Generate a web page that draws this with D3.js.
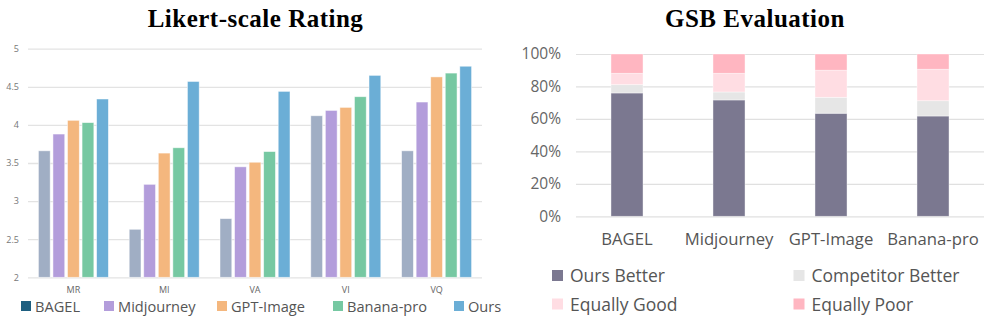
<!DOCTYPE html>
<html><head><meta charset="utf-8">
<script src="https://cdn.jsdelivr.net/npm/d3@7"></script>
<style>
html,body{margin:0;padding:0;background:#fff;}
svg{display:block;}
</style></head>
<body>
<svg id="c" width="996" height="324"></svg>
<script>
// ---- Likert data ----
const likertCats = ["MR","MI","VA","VI","VQ"];
const models = ["BAGEL","Midjourney","GPT-Image","Banana-pro","Ours"];
const bagelVals = [3.66, 2.63, 2.77, 4.12, 3.66];
const midjourneyVals = [3.88, 3.22, 3.45, 4.19, 4.30];
const gptVals = [4.06, 3.63, 3.51, 4.23, 4.63];
const bananaVals = [4.03, 3.70, 3.65, 4.37, 4.68];
const oursVals = [4.34, 4.57, 4.44, 4.65, 4.77];
const likertTicks = [2, 2.5, 3, 3.5, 4, 4.5, 5];

// ---- GSB data ----
const gsbCats = ["BAGEL","Midjourney","GPT-Image","Banana-pro"];
const gsbSeries = ["Ours Better","Competitor Better","Equally Good","Equally Poor"];
const oursBetter = [76.0, 71.7, 63.5, 61.8];
const competitorBetter = [5.1, 4.9, 9.8, 9.4];
const equallyGood = [7.0, 11.5, 16.7, 19.4];
const equallyPoor = [11.9, 11.9, 10.0, 9.4];
const gsbTicks = [0, 20, 40, 60, 80, 100];

const svg = d3.select("#c");
const sans = "'Open Sans', 'Noto Sans', sans-serif";
const serif = "'Liberation Serif', serif";

// ===== Left chart =====
(function(){
  const barColors = ["#a0aec4","#b39ddb","#f4b77e","#76c8a2","#6baed6"];
  const legendColors = ["#1e5f80","#b39ddb","#f4b77e","#76c8a2","#6baed6"];
  const series = [bagelVals, midjourneyVals, gptVals, bananaVals, oursVals];
  const x0 = d3.scaleBand().domain(likertCats).range([28, 482]).paddingInner(0).paddingOuter(0);
  const x1 = d3.scaleBand().domain(models).range([0, 70]).paddingInner(0.19).paddingOuter(0);
  const y = d3.scaleLinear().domain([2,5]).range([277.3, 48.7]);
  const g = svg.append("g");
  const yAxis = d3.axisLeft(y).tickValues(likertTicks).tickSize(-454).tickFormat(d3.format("~g"));
  const ga = g.append("g").attr("transform","translate(28,0)").call(yAxis);
  ga.select(".domain").remove();
  ga.selectAll(".tick line").attr("stroke","#e3e3e3").attr("stroke-width",1.3);
  ga.selectAll(".tick text").attr("x",-9).attr("fill","#777").style("font-family",sans).style("font-size","9px");
  const groups = g.selectAll(".grp").data(likertCats).enter().append("g")
    .attr("transform", d => `translate(${x0(d)+x0.bandwidth()/2-35},0)`);
  models.forEach((m, mi) => {
    groups.append("rect")
      .attr("x", x1(m))
      .attr("width", x1.bandwidth())
      .attr("y", (d,i) => y(series[mi][i]))
      .attr("height", (d,i) => y(2) - y(series[mi][i]))
      .attr("fill", barColors[mi])
      .attr("stroke", "#ffffff").attr("stroke-opacity",0.6).attr("stroke-width",0.8);
  });
  const xAxis = d3.axisBottom(x0).tickSize(0);
  const gx = g.append("g").attr("transform","translate(0,284)").call(xAxis);
  gx.select(".domain").remove();
  gx.selectAll(".tick text").attr("fill","#666").style("font-family",sans).style("font-size","9px");
  g.append("text").attr("x",255.5).attr("y",27).attr("text-anchor","middle")
    .style("font-family",serif).style("font-weight","bold").style("font-size","25px")
    .style("letter-spacing","0.5px")
    .attr("fill","#000").text("Likert-scale Rating");
  // legend
  const legX = [21, 104, 217, 333, 454];
  const leg = g.selectAll(".leg").data(models).enter().append("g")
    .attr("transform",(d,i)=>`translate(${legX[i]},301)`);
  leg.append("rect").attr("width",10).attr("height",10).attr("fill",(d,i)=>legendColors[i]);
  leg.append("text").attr("x",14).attr("y",10.5).attr("fill","#555")
    .style("font-family",sans).style("font-size","14.6px").text(d=>d);
})();

// ===== Right chart =====
(function(){
  const colors = ["#7b7890","#e6e6e6","#ffdde3","#ffb6c1"];
  const vals = [oursBetter, competitorBetter, equallyGood, equallyPoor];
  const rows = gsbCats.map((c,i)=>{ const o={cat:c}; gsbSeries.forEach((s,k)=>o[s]=vals[k][i]); return o; });
  const stack = d3.stack().keys(gsbSeries)(rows);
  const x = d3.scaleBand().domain(gsbCats).range([576, 984]).paddingInner(0.686).paddingOuter(0.343);
  const y = d3.scaleLinear().domain([0,100]).range([216.3, 54]);
  const g = svg.append("g");
  const yAxis = d3.axisLeft(y).tickValues(gsbTicks).tickSize(-408).tickFormat(d=>d+"%");
  const ga = g.append("g").attr("transform","translate(576,0)").call(yAxis);
  ga.select(".domain").remove();
  ga.selectAll(".tick line").attr("stroke","#e0e0e0").attr("stroke-width",1.2);
  ga.selectAll(".tick text").attr("x",-15).attr("fill","#666").style("font-family",sans).style("font-size","15.5px");
  g.selectAll(".layer").data(stack).enter().append("g")
    .attr("fill",(d,i)=>colors[i])
    .selectAll("rect").data(d=>d).enter().append("rect")
    .attr("x", d=>x(d.data.cat))
    .attr("width", x.bandwidth())
    .attr("y", d=>y(d[1]))
    .attr("height", d=>y(d[0])-y(d[1]))
    .attr("stroke","#ffffff").attr("stroke-opacity",0.5).attr("stroke-width",0.8);
  const gx = g.append("g").attr("transform","translate(0,230)").call(d3.axisBottom(x).tickSize(0));
  gx.select(".domain").remove();
  gx.selectAll(".tick text").attr("fill","#555").style("font-family",sans).style("font-size","16.7px");
  g.append("text").attr("x",755).attr("y",27).attr("text-anchor","middle")
    .style("font-family",serif).style("font-weight","bold").style("font-size","25px")
    .style("letter-spacing","0.5px")
    .attr("fill","#000").text("GSB Evaluation");
  const legPos = [[552,270],[793.5,270],[552,298.5],[793.5,298.5]];
  const leg = g.selectAll(".leg").data(gsbSeries).enter().append("g")
    .attr("transform",(d,i)=>`translate(${legPos[i][0]},${legPos[i][1]})`);
  leg.append("rect").attr("width",11).attr("height",11).attr("fill",(d,i)=>colors[i]);
  leg.append("text").attr("x",18).attr("y",12).attr("fill","#555")
    .style("font-family",sans).style("font-size","17.5px").text(d=>d);
})();
</script>
</body></html>
